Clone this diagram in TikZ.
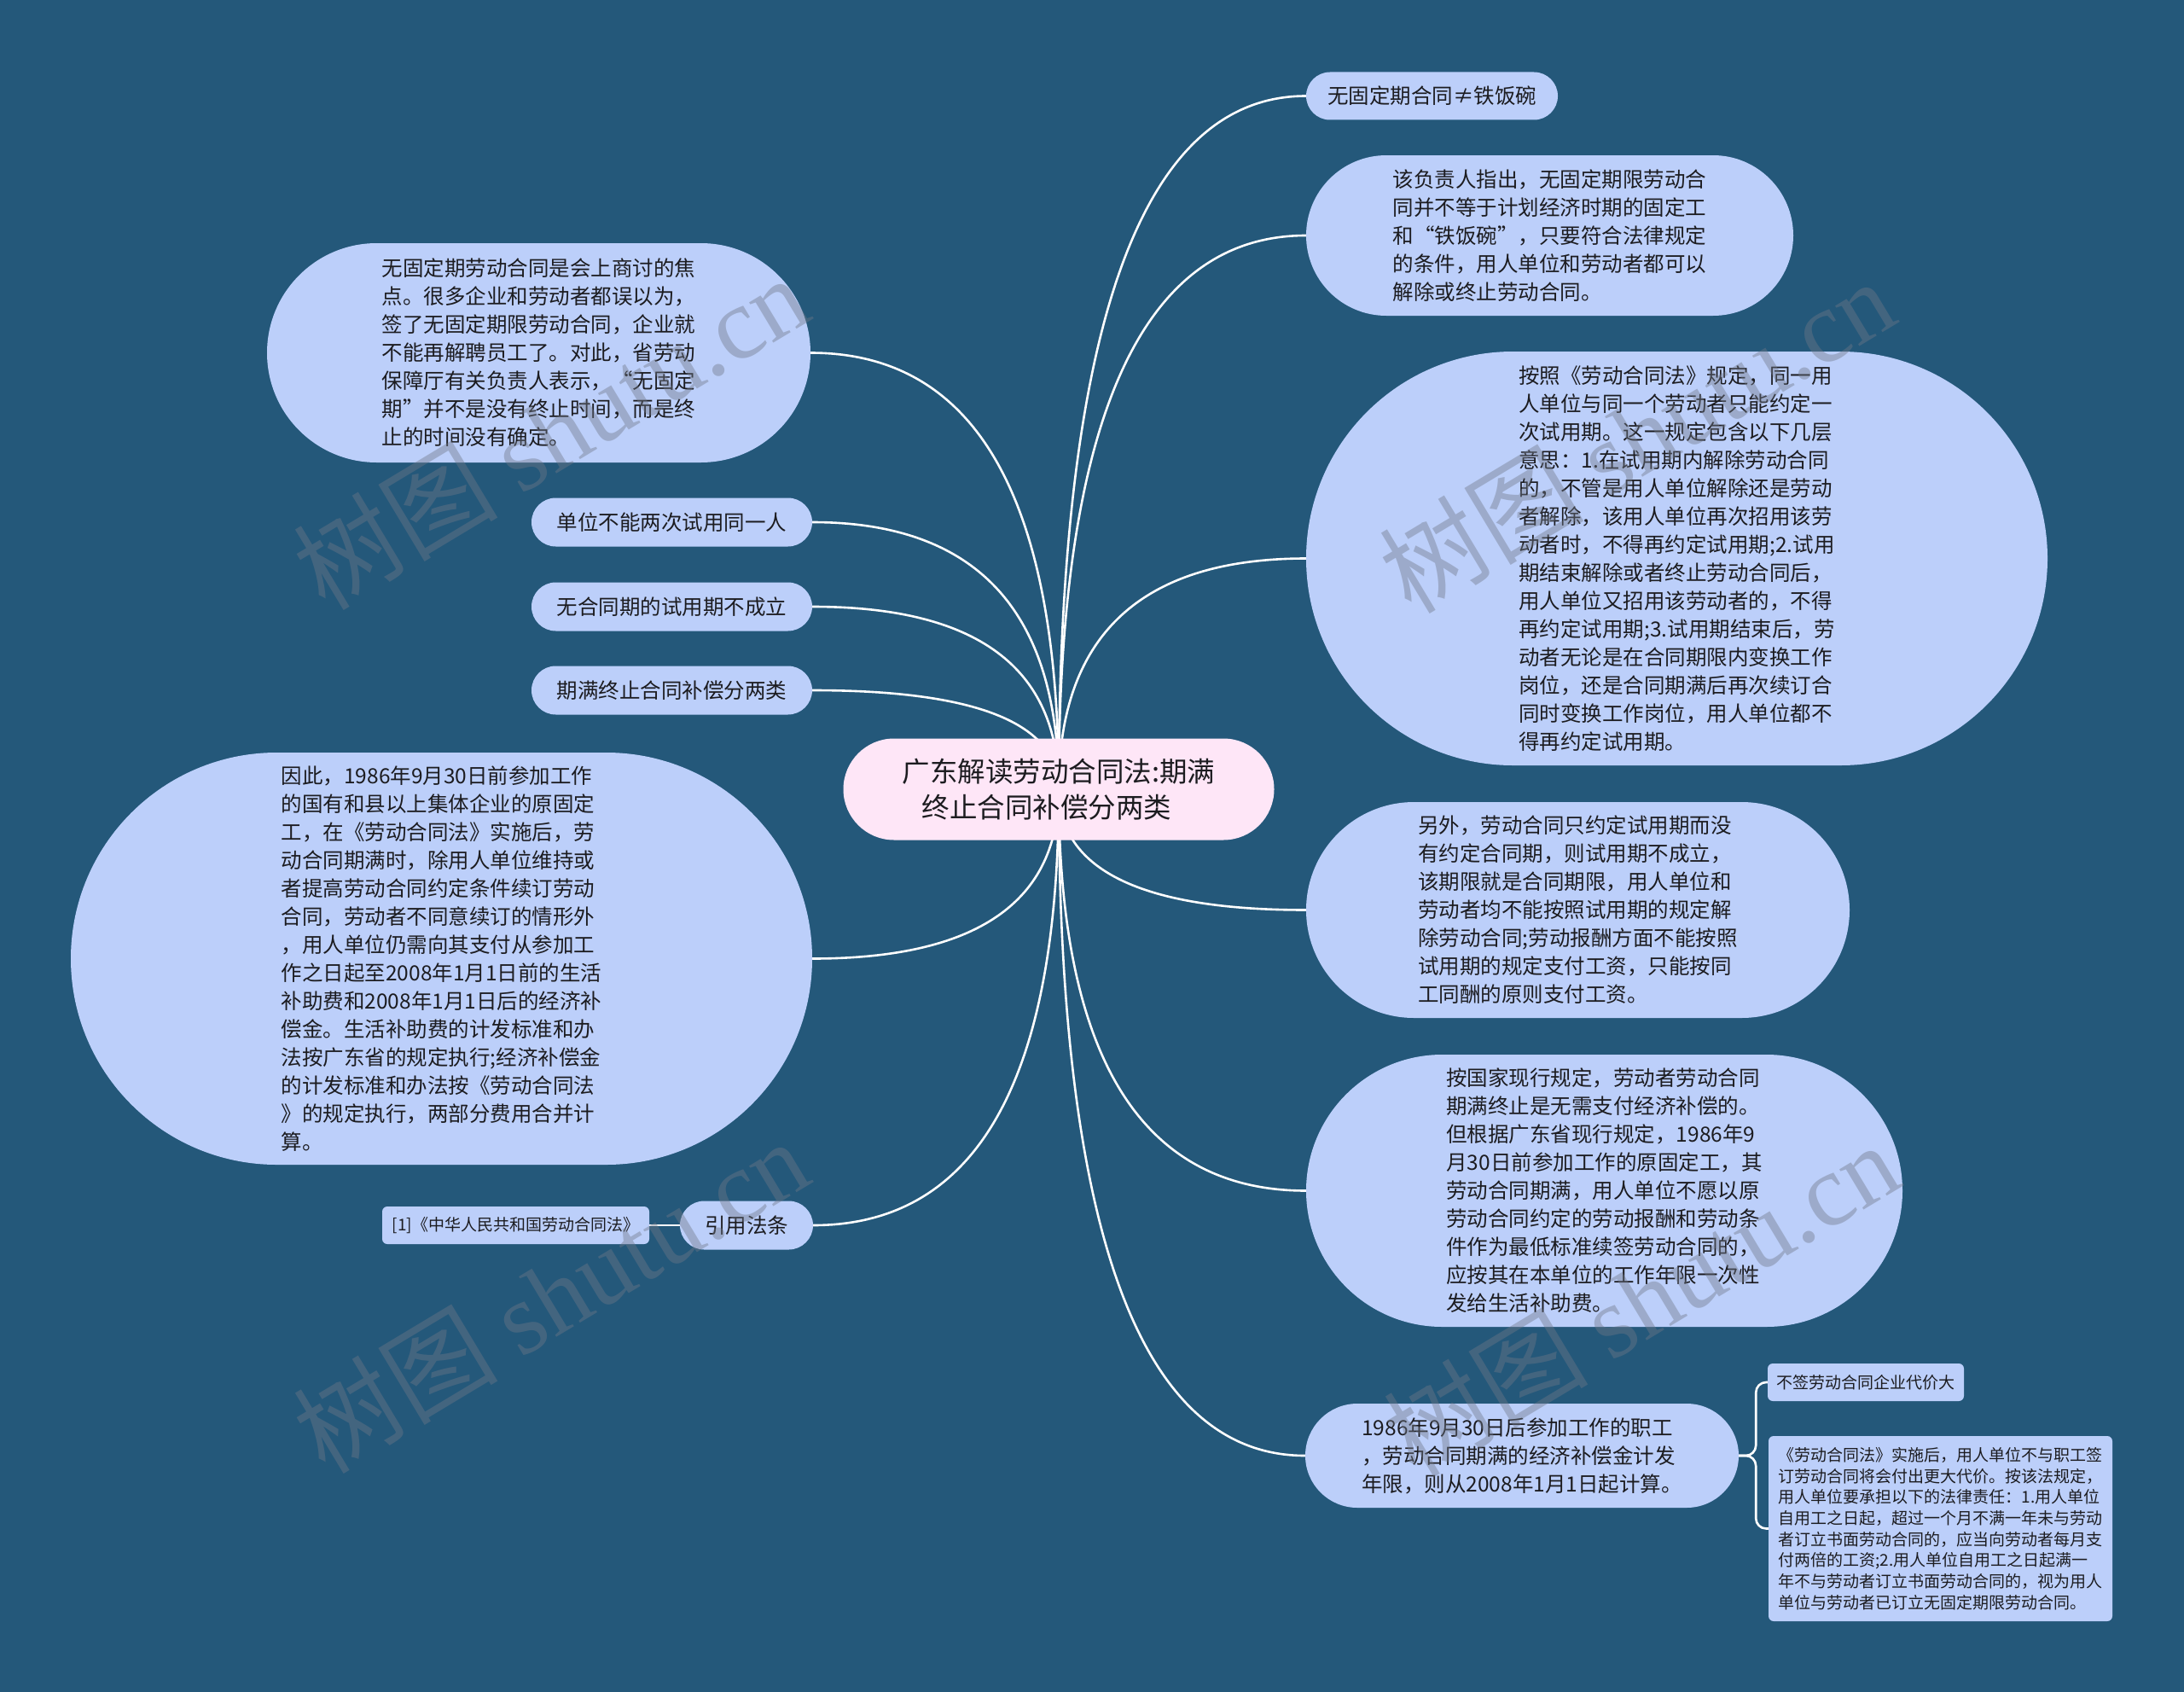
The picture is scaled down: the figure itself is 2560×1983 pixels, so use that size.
\documentclass[tikz,border=0pt]{standalone}
\usepackage{fontspec}
\setmainfont{Noto Sans CJK SC}
\newfontfamily\wmserif{Liberation Serif}
\usetikzlibrary{calc}
\definecolor{bgcol}{RGB}{36,88,122}
\definecolor{boxcol}{RGB}{188,207,250}
\definecolor{rootcol}{RGB}{254,230,247}
\definecolor{txtcol}{RGB}{28,28,32}
\definecolor{wmcol}{RGB}{112,120,136}
\pgfdeclarelayer{bglayer}
\pgfdeclarelayer{linelayer}
\pgfsetlayers{bglayer,linelayer,main}
\tikzset{
  conn/.style={draw=white, line width=2.6pt},
  topbox/.style={rectangle, fill=boxcol, inner sep=0pt, text=txtcol, align=left,
    font=\fontsize{24.5}{33}\selectfont},
  rootbox/.style={rectangle, fill=rootcol, inner sep=0pt, text=txtcol, align=center,
    font=\fontsize{32.5}{42}\selectfont},
  smallbox/.style={rectangle, fill=boxcol, inner sep=0pt, rounded corners=6pt, text=txtcol,
    align=left, font=\fontsize{19}{24.7}\selectfont},
  wmark/.style={text=wmcol, text opacity=0.42, rotate=31, inner sep=0pt,
    font=\fontsize{120}{120}\selectfont}
}
\newcommand\mmlink[2]{%
  \path (R.center |- #1.#2) coordinate (#1-ctrlpt);
  \draw[conn] (R.center) .. controls ($(R.center)!0.667!(#1-ctrlpt)$) and ($(#1.#2)!0.667!(#1-ctrlpt)$) .. (#1.#2);%
}
\begin{document}
\begin{tikzpicture}[x=1pt,y=-1pt]
\useasboundingbox (0,0) rectangle (2560,1983);
\begin{pgfonlayer}{bglayer}
  \fill[bgcol] (0,0) rectangle (2560,1983);
\end{pgfonlayer}

% root
\node[rootbox, minimum width=505pt, minimum height=119pt, rounded corners=59.5pt] (R) at (1241,925)
  {广东解读劳动合同法:期满\\终止合同补偿分两类\hspace{28pt}\mbox{}};

% right side
\node[topbox, minimum width=295pt, minimum height=56pt, rounded corners=28pt] (A) at (1678.5,112.5)
  {无固定期合同≠铁饭碗};
\node[topbox, minimum width=571pt, minimum height=188pt, rounded corners=94pt] (B) at (1816.5,276)
  {该负责人指出，无固定期限劳动合\\同并不等于计划经济时期的固定工\\和“铁饭碗”，只要符合法律规定\\的条件，用人单位和劳动者都可以\\解除或终止劳动合同。};
\node[topbox, minimum width=869pt, minimum height=485pt, rounded corners=242.5pt] (C) at (1965.5,654.5)
  {按照《劳动合同法》规定，同一用\\人单位与同一个劳动者只能约定一\\次试用期。这一规定包含以下几层\\意思：1.在试用期内解除劳动合同\\的，不管是用人单位解除还是劳动\\者解除，该用人单位再次招用该劳\\动者时，不得再约定试用期;2.试用\\期结束解除或者终止劳动合同后，\\用人单位又招用该劳动者的，不得\\再约定试用期;3.试用期结束后，劳\\动者无论是在合同期限内变换工作\\岗位，还是合同期满后再次续订合\\同时变换工作岗位，用人单位都不\\得再约定试用期。};
\node[topbox, minimum width=637pt, minimum height=253pt, rounded corners=126.5pt] (D) at (1849.5,1066.5)
  {另外，劳动合同只约定试用期而没\\有约定合同期，则试用期不成立，\\该期限就是合同期限，用人单位和\\劳动者均不能按照试用期的规定解\\除劳动合同;劳动报酬方面不能按照\\试用期的规定支付工资，只能按同\\工同酬的原则支付工资。};
\node[topbox, minimum width=699pt, minimum height=319pt, rounded corners=159.5pt] (E) at (1880.5,1395.5)
  {按国家现行规定，劳动者劳动合同\\期满终止是无需支付经济补偿的。\\但根据广东省现行规定，1986年9\\月30日前参加工作的原固定工，其\\劳动合同期满，用人单位不愿以原\\劳动合同约定的劳动报酬和劳动条\\件作为最低标准续签劳动合同的，\\应按其在本单位的工作年限一次性\\发给生活补助费。};
\node[topbox, minimum width=508pt, minimum height=122pt, rounded corners=61pt] (F) at (1784,1706)
  {1986年9月30日后参加工作的职工\\，劳动合同期满的经济补偿金计发\\年限，则从2008年1月1日起计算。};
\node[smallbox, minimum width=230pt, minimum height=44pt] (F1) at (2187,1620)
  {不签劳动合同企业代价大};
\node[smallbox, minimum width=403pt, minimum height=217pt] (F2) at (2274.5,1791.5)
  {《劳动合同法》实施后，用人单位不与职工签\\订劳动合同将会付出更大代价。按该法规定，\\用人单位要承担以下的法律责任：1.用人单位\\自用工之日起，超过一个月不满一年未与劳动\\者订立书面劳动合同的，应当向劳动者每月支\\付两倍的工资;2.用人单位自用工之日起满一\\年不与劳动者订立书面劳动合同的，视为用人\\单位与劳动者已订立无固定期限劳动合同。};

% left side
\node[topbox, minimum width=637pt, minimum height=257pt, rounded corners=128.5pt] (L1) at (631.5,413.5)
  {无固定期劳动合同是会上商讨的焦\\点。很多企业和劳动者都误以为，\\签了无固定期限劳动合同，企业就\\不能再解聘员工了。对此，省劳动\\保障厅有关负责人表示，“无固定\\期”并不是没有终止时间，而是终\\止的时间没有确定。};
\node[topbox, minimum width=329pt, minimum height=57pt, rounded corners=28.5pt] (L2) at (787.5,612)
  {单位不能两次试用同一人};
\node[topbox, minimum width=329pt, minimum height=57pt, rounded corners=28.5pt] (L3) at (787.5,711)
  {无合同期的试用期不成立};
\node[topbox, minimum width=329pt, minimum height=57pt, rounded corners=28.5pt] (L4) at (787.5,809)
  {期满终止合同补偿分两类};
\node[topbox, minimum width=869pt, minimum height=483pt, rounded corners=241.5pt] (L5) at (517.5,1123.5)
  {因此，1986年9月30日前参加工作\\的国有和县以上集体企业的原固定\\工，在《劳动合同法》实施后，劳\\动合同期满时，除用人单位维持或\\者提高劳动合同约定条件续订劳动\\合同，劳动者不同意续订的情形外\\，用人单位仍需向其支付从参加工\\作之日起至2008年1月1日前的生活\\补助费和2008年1月1日后的经济补\\偿金。生活补助费的计发标准和办\\法按广东省的规定执行;经济补偿金\\的计发标准和办法按《劳动合同法\\》的规定执行，两部分费用合并计\\算。};
\node[topbox, minimum width=156pt, minimum height=57pt, rounded corners=28.5pt] (L6) at (875,1436)
  {引用法条};
\node[smallbox, minimum width=313pt, minimum height=44pt] (L6ref) at (604.5,1436)
  {[1]《中华人民共和国劳动合同法》};

% connectors
\begin{pgfonlayer}{linelayer}
  \mmlink{A}{west}
  \mmlink{B}{west}
  \mmlink{C}{west}
  \mmlink{D}{west}
  \mmlink{E}{west}
  \mmlink{F}{west}
  \mmlink{L1}{east}
  \mmlink{L2}{east}
  \mmlink{L3}{east}
  \mmlink{L4}{east}
  \mmlink{L5}{east}
  \mmlink{L6}{east}
  \draw[conn] (L6.west) -- (L6ref.east);
  \draw[conn, rounded corners=12pt] (F.east) -- ++(20,0) |- (F1.west);
  \draw[conn, rounded corners=12pt] (F.east) -- ++(20,0) |- (F2.west);
\end{pgfonlayer}

% watermarks
\node[wmark] (W1) at (645,506) {树图 {\wmserif shutu.cn}};
\node[wmark] (W2) at (1918,510) {树图 {\wmserif shutu.cn}};
\node[wmark] (W3) at (645,1518) {树图 {\wmserif shutu.cn}};
\node[wmark] (W4) at (1923,1522) {树图 {\wmserif shutu.cn}};
\end{tikzpicture}
\end{document}
